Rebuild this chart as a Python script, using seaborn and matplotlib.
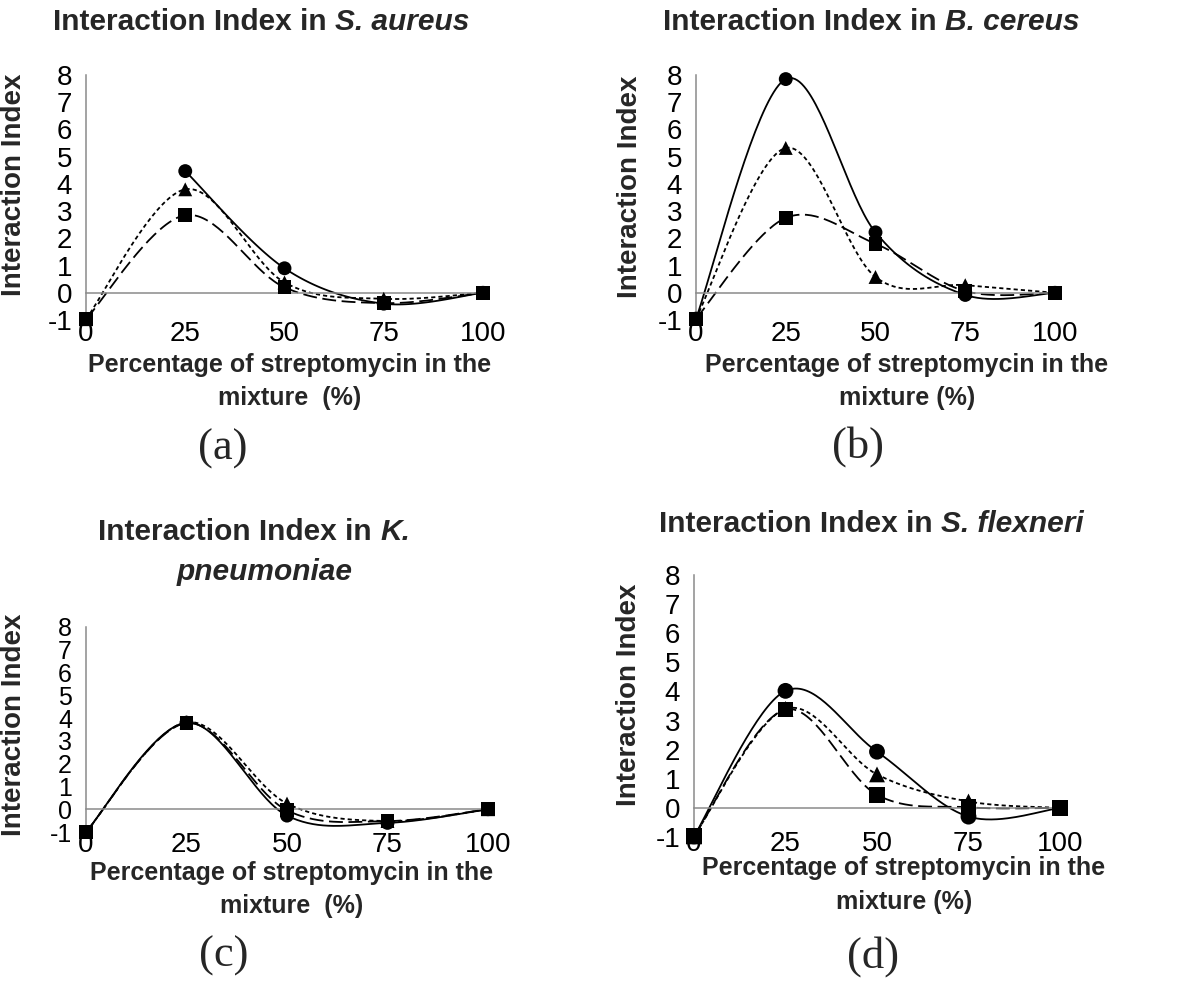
import numpy as np
import pandas as pd
import seaborn as sns
import matplotlib.pyplot as plt
from matplotlib.transforms import Affine2D

sns.set_style("white")
plt.rcParams['font.family'] = ['Liberation Sans', 'DejaVu Sans']
plt.rcParams['lines.scale_dashes'] = False

W, H = 1200, 981

# percentage of streptomycin in the mixture
pct = [0, 25, 50, 75, 100]

# interaction index values (nan = no point)
aureus_circle = [np.nan, 4.47, 0.9, -0.4, 0]
aureus_triangle = [-0.97, 3.8, 0.38, -0.22, 0]
aureus_square = [-0.97, 2.85, 0.2, -0.38, 0]

cereus_circle = [-0.95, 7.85, 2.22, -0.08, 0]
cereus_triangle = [-0.95, 5.32, 0.58, 0.28, 0]
cereus_square = [-0.95, 2.75, 1.8, 0.06, 0]

pneumoniae_circle = [-1, 3.8, -0.28, -0.6, 0]
pneumoniae_triangle = [-1, 3.82, 0.25, -0.52, 0]
pneumoniae_square = [-1, 3.78, -0.05, -0.52, 0]

flexneri_circle = [-0.98, 4.02, 1.93, -0.3, 0]
flexneri_triangle = [-0.98, 3.4, 1.15, 0.22, 0]
flexneri_square = [-0.98, 3.38, 0.45, 0.02, 0]

yticks = list(range(-1, 9))
gray = '#8a8a8a'

# pixel coords (top-left origin) -> display
px = Affine2D().scale(1, -1).translate(0, H)


def smooth(x, y, n=40):
    # Excel-like smoothed line (Catmull-Rom as cubic Bezier)
    P = np.column_stack([x, y]).astype(float)
    P = P[~np.isnan(P[:, 1])]
    P = np.vstack([P[:1], P, P[-1:]])
    t = np.linspace(0, 1, n)[:, None]
    out = []
    for i in range(1, len(P) - 2):
        p0, p3 = P[i], P[i + 1]
        c1 = p0 + (P[i + 1] - P[i - 1]) / 6
        c2 = p3 - (P[i + 2] - P[i]) / 6
        seg = (1 - t) ** 3 * p0 + 3 * (1 - t) ** 2 * t * c1 + 3 * (1 - t) * t ** 2 * c2 + t ** 3 * p3
        out.append(seg if i == 1 else seg[1:])
    return np.vstack(out)


def mixed_text(ax, parts, cx, y, size=21.5):
    # bold text with an italic species name, centred on cx
    r = fig.canvas.get_renderer()
    def width(s, style):
        t = ax.text(0, 0, s, transform=px, fontsize=size, fontweight='bold', fontstyle=style)
        w = t.get_window_extent(r).width
        t.remove()
        return w
    space = width('a a', 'normal') - width('aa', 'normal')
    widths = [width(s, st) for s, st in parts]
    total = sum(widths) + space * (len(parts) - 1)
    x = cx - total / 2
    for (s, st), w in zip(parts, widths):
        ax.text(x, y, s, transform=px, ha='left', va='baseline', fontsize=size,
                fontweight='bold', fontstyle=st)
        x += w + space


def panel(box, series, title_lines, xlab_y, xlab_x, letter, ylab, label_gap,
          msize=100, ysize=20):
    left, right, top, bottom = box
    ax = fig.add_axes([left / W, 1 - bottom / H, (right - left) / W, (bottom - top) / H])

    curves, points = [], []
    for name, vals in series:
        c = smooth(pct, vals)
        curves.append(pd.DataFrame({'x': c[:, 0], 'y': c[:, 1], 'series': name}))
        points.append(pd.DataFrame({'x': pct, 'y': vals, 'series': name}).dropna())
    curves = pd.concat(curves)
    points = pd.concat(points)

    sns.lineplot(data=curves, x='x', y='y', style='series', sort=False, estimator=None,
                 dashes={'circle': '', 'triangle': (3, 2.2), 'square': (10, 4)},
                 color='black', linewidth=1.3, legend=False, ax=ax)
    sns.scatterplot(data=points, x='x', y='y', style='series',
                    markers={'circle': 'o', 'triangle': '^', 'square': 's'},
                    color='black', s=msize, linewidth=0, legend=False, clip_on=False,
                    zorder=3, ax=ax)

    ax.set_xlim(0, 100)
    ax.set_ylim(-1, 8)
    ax.set_xticks(pct)
    ax.set_yticks(yticks)
    ax.set_xticklabels([str(p) for p in pct])
    ax.set_yticklabels([str(v) for v in yticks])
    for s in ['top', 'right']:
        ax.spines[s].set_visible(False)
    ax.spines['bottom'].set_position(('data', 0))
    for s in ['left', 'bottom']:
        ax.spines[s].set_color(gray)
        ax.spines[s].set_linewidth(1.1)
    ax.tick_params(axis='both', direction='out', length=5, width=1.1, color=gray,
                   labelsize=20, labelcolor='black')
    ax.tick_params(axis='y', pad=5, labelsize=ysize)
    # x tick labels sit below the -1 line (gap in pixels from the zero line)
    ax.tick_params(axis='x', pad=label_gap * 0.72 - 5)

    ax.set_xlabel('')
    ax.set_ylabel('Interaction Index', fontsize=20, fontweight='bold', va='center')
    ax.yaxis.set_label_coords(ylab[0], ylab[1], transform=px)

    for parts, x, y in title_lines:
        mixed_text(ax, parts, x, y)
    ax.text(xlab_x, xlab_y[0], 'Percentage of streptomycin in the', transform=px,
            ha='center', va='baseline', fontsize=18, fontweight='bold')
    ax.text(xlab_x, xlab_y[1], xlab_y[2], transform=px,
            ha='center', va='baseline', fontsize=18, fontweight='bold')
    ax.text(letter[1], letter[2], letter[0], transform=px, ha='center', va='baseline',
            fontsize=32, family='Liberation Serif')
    return ax


fig = plt.figure(figsize=(W / 100, H / 100), dpi=100)

panel((86, 483, 75, 320),
      [('circle', aureus_circle), ('triangle', aureus_triangle), ('square', aureus_square)],
      [([('Interaction Index in', 'normal'), ('S. aureus', 'italic')], 261, 30)],
      (372, 405, 'mixture  (%)'), 290, ('(a)', 223, 460), (14, 185), 28)

panel((696, 1055, 75, 320),
      [('circle', cereus_circle), ('triangle', cereus_triangle), ('square', cereus_square)],
      [([('Interaction Index in', 'normal'), ('B. cereus', 'italic')], 871, 30)],
      (372, 405, 'mixture (%)'), 907, ('(b)', 858, 458), (630, 187), 28)

panel((86, 488, 627, 832),
      [('circle', pneumoniae_circle), ('triangle', pneumoniae_triangle), ('square', pneumoniae_square)],
      [([('Interaction Index in', 'normal'), ('K.', 'italic')], 254, 540),
       ([('pneumoniae', 'italic')], 265, 580)],
      (880, 913, 'mixture  (%)'), 292, ('(c)', 224, 967), (14, 725), 23, ysize=18)

panel((694, 1060, 575, 837),
      [('circle', flexneri_circle), ('triangle', flexneri_triangle), ('square', flexneri_square)],
      [([('Interaction Index in', 'normal'), ('S. flexneri', 'italic')], 871, 532)],
      (875, 909, 'mixture (%)'), 904, ('(d)', 873, 968), (629, 695), 23, msize=130)

fig.savefig('out.png', dpi=100)
